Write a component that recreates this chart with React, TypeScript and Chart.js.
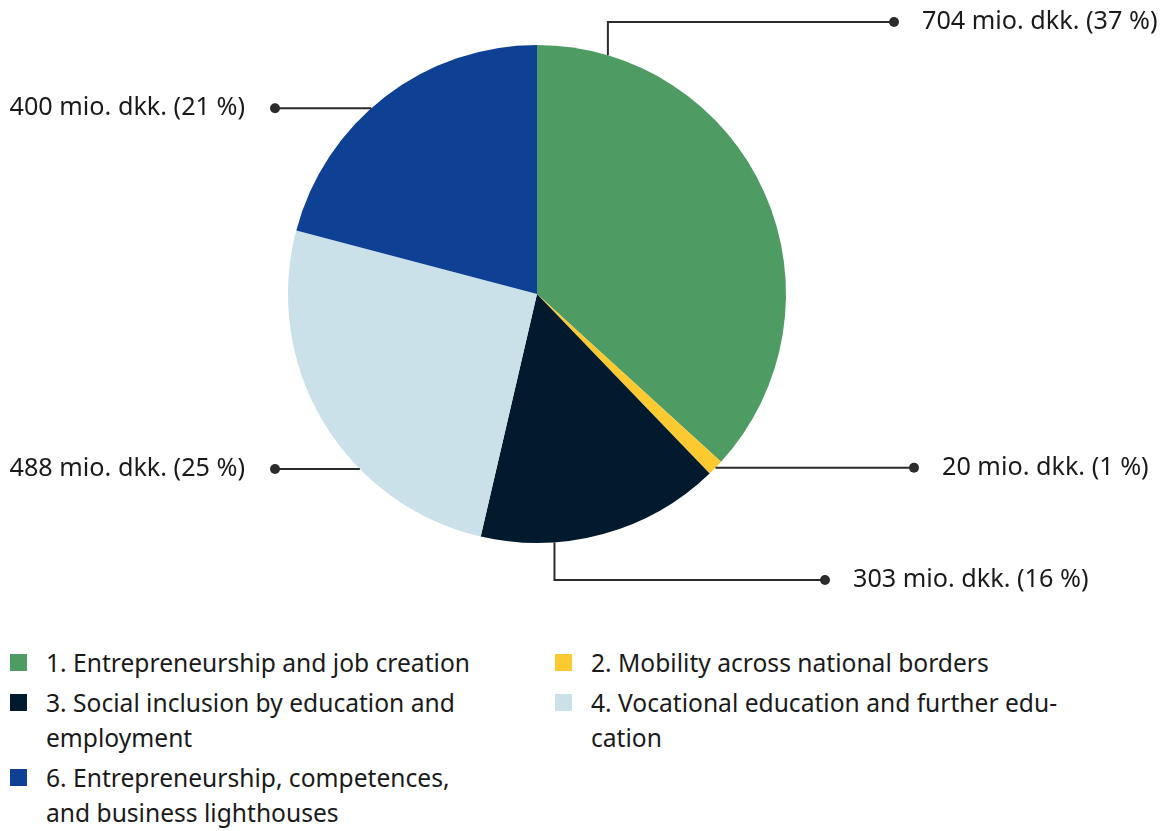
import React, { useEffect, useRef } from "react";
import { Chart, registerables } from "chart.js";

Chart.register(...registerables);

const categories = [
  "1. Entrepreneurship and job creation",
  "2. Mobility across national borders",
  "3. Social inclusion by education and employment",
  "4. Vocational education and further education",
  "6. Entrepreneurship, competences, and business lighthouses",
];
const values = [704, 20, 303, 488, 400];
const colors = ["#4f9b64", "#fdc931", "#021a2d", "#cae1e9", "#0e4194"];
const legendLines = [
  ["1. Entrepreneurship and job creation"],
  ["2. Mobility across national borders"],
  ["3. Social inclusion by education and", "employment"],
  ["4. Vocational education and further edu-", "cation"],
  ["6. Entrepreneurship, competences,", "and business lighthouses"],
];
// leader layout per slice: where on the arc the line starts (fraction of slice), direction, offsets relative to centre
const leaders = [
  { frac: 0.125, dir: "up", elbow: -272, dot: 357 },
  { frac: 0.5, dir: "right", elbow: 0, dot: 377 },
  { frac: 0.7, dir: "down", elbow: 286, dot: 288 },
  { frac: 0.352, dir: "left", elbow: 0, dot: -262 },
  { frac: 0.445, dir: "left", elbow: 0, dot: -262 },
];

const FONT = "'Noto Sans', 'Open Sans', sans-serif";

const leaderPlugin = {
  id: "leaders",
  afterDatasetsDraw(chart: any) {
    const ctx = chart.ctx;
    const meta = chart.getDatasetMeta(0);
    const data = chart.data.datasets[0].data as number[];
    const total = data.reduce((a, b) => a + b, 0);
    ctx.save();
    meta.data.forEach((arc: any, i: number) => {
      const L = leaders[i];
      const { x: cx, y: cy, startAngle, endAngle, outerRadius } = arc.getProps(
        ["x", "y", "startAngle", "endAngle", "outerRadius"],
        true
      );
      const a = startAngle + L.frac * (endAngle - startAngle);
      const ax = cx + Math.cos(a) * outerRadius;
      const ay = cy + Math.sin(a) * outerRadius;
      const dotX = cx + L.dot;
      let dotY = ay;
      ctx.strokeStyle = "#2b2b2b";
      ctx.fillStyle = "#2b2b2b";
      ctx.lineWidth = 2;
      ctx.beginPath();
      ctx.moveTo(ax, ay);
      if (L.dir === "up" || L.dir === "down") {
        dotY = cy + L.elbow;
        ctx.lineTo(ax, dotY);
        ctx.lineTo(dotX, dotY);
      } else {
        ctx.lineTo(dotX, ay);
      }
      ctx.stroke();
      ctx.beginPath();
      ctx.arc(dotX, dotY, 5, 0, Math.PI * 2);
      ctx.fill();
      const pct = Math.round((data[i] / total) * 100);
      const text = `${data[i]} mio. dkk. (${pct} %)`;
      ctx.font = `25.2px ${FONT}`;
      ctx.fillStyle = "#1a1a1a";
      ctx.textBaseline = "middle";
      if (L.dot < 0) {
        ctx.textAlign = "right";
        ctx.fillText(text, dotX - 30, dotY);
      } else {
        ctx.textAlign = "left";
        ctx.fillText(text, dotX + 28, dotY);
      }
    });
    ctx.restore();
  },
};

export default function App() {
  const ref = useRef<HTMLCanvasElement>(null);
  useEffect(() => {
    if (!ref.current) return;
    const chart = new Chart(ref.current, {
      type: "pie",
      data: {
        labels: categories,
        datasets: [
          {
            data: values,
            backgroundColor: colors,
            borderWidth: 0,
          },
        ],
      },
      options: {
        animation: false,
        responsive: false,
        devicePixelRatio: 1,
        layout: { padding: { left: 280, right: 377, top: 37, bottom: 85 } },
        plugins: {
          legend: { display: false },
          tooltip: { enabled: false },
        },
      },
      plugins: [leaderPlugin],
    });
    return () => chart.destroy();
  }, []);

  const order = [0, 1, 2, 3, 4];
  return (
    <div style={{ width: 1155, fontFamily: FONT, color: "#1a1a1a" }}>
      <canvas ref={ref} width={1155} height={620} style={{ display: "block" }} />
      <div
        style={{
          display: "grid",
          gridTemplateColumns: "545px 600px",
          rowGap: 5,
          marginTop: 17,
          fontSize: 24.6,
          lineHeight: "35px",
        }}
      >
        {order.map((i) => (
          <div key={i} style={{ display: "flex", alignItems: "flex-start", paddingLeft: 2 }}>
            <div
              style={{
                width: 17,
                height: 17,
                background: colors[i],
                marginTop: 9,
                marginRight: 19,
                flex: "none",
              }}
            />
            <div style={{ whiteSpace: "nowrap" }}>
              {legendLines[i].map((l, k) => (
                <div key={k}>{l}</div>
              ))}
            </div>
          </div>
        ))}
      </div>
    </div>
  );
}
